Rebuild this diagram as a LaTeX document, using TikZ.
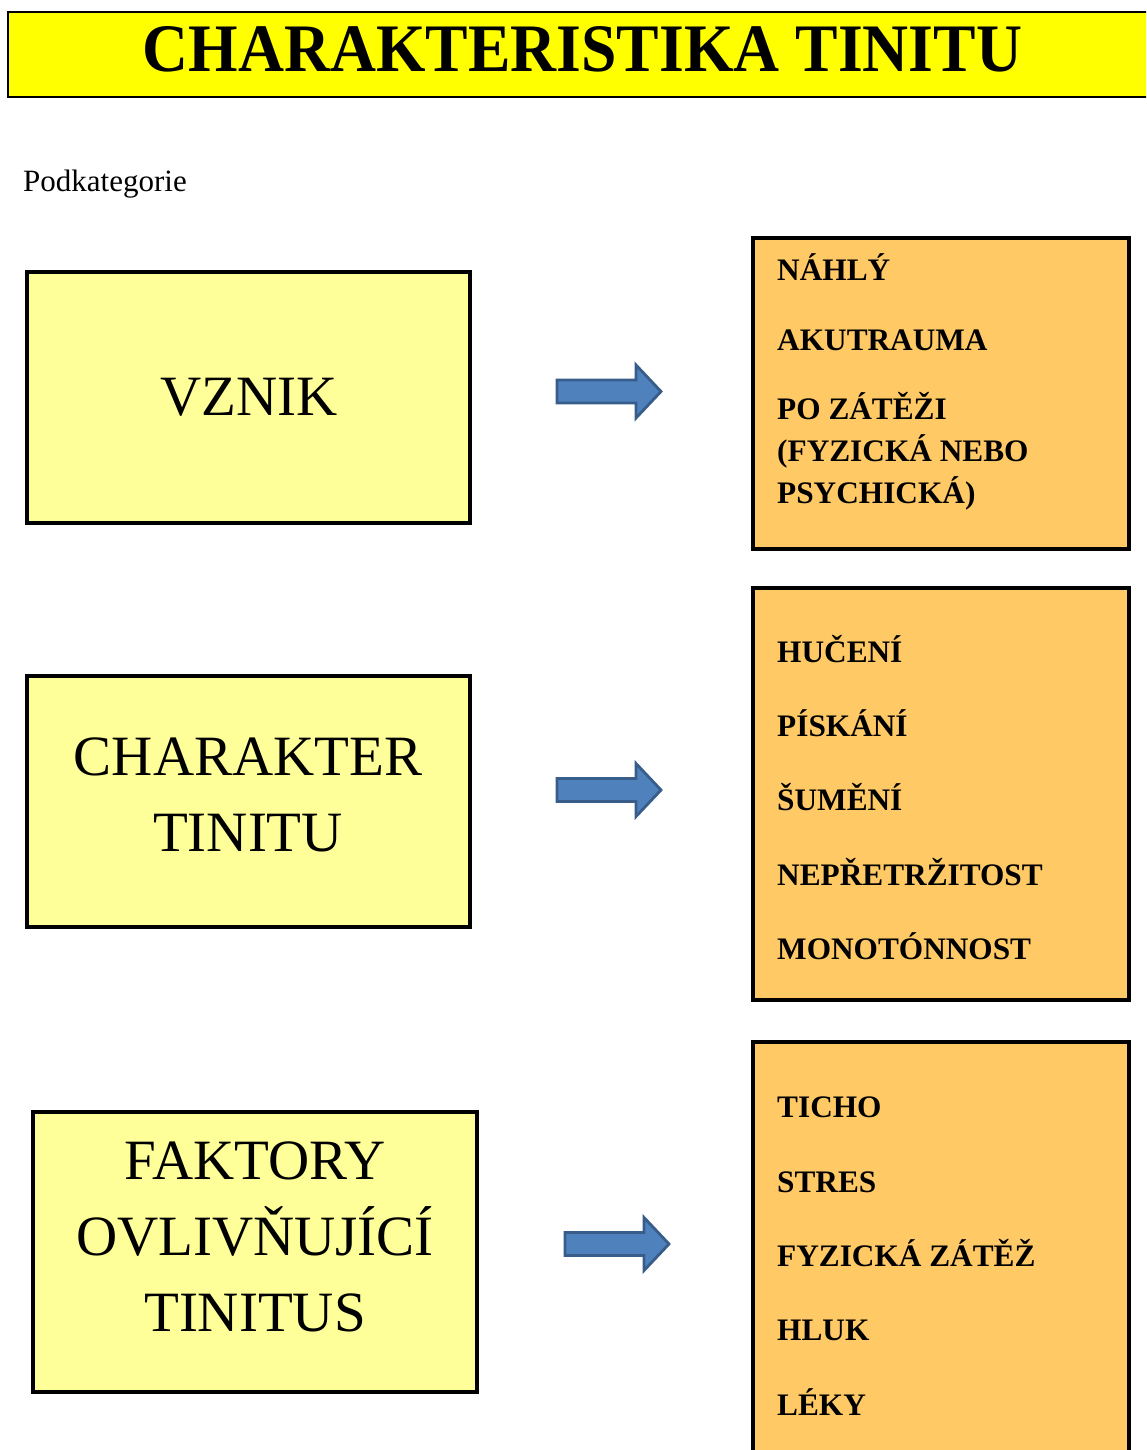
\documentclass[tikz,border=0pt]{standalone}
\usepackage{fontspec}
\setmainfont{Liberation Serif}
\usepackage{graphicx}
\definecolor{titleyellow}{HTML}{FFFF00}
\definecolor{paleyellow}{HTML}{FFFF99}
\definecolor{boxorange}{HTML}{FFC966}
\definecolor{arrowfill}{HTML}{4F81BD}
\definecolor{arrowline}{HTML}{385D8A}
\tikzset{
  catbox/.style={draw=black, line width=3.5pt, fill=paleyellow, inner sep=0pt},
  listbox/.style={draw=black, line width=4pt, fill=boxorange, inner sep=0pt},
  cattext/.style={font=\fontsize{57}{76}\selectfont, align=center, inner sep=0pt},
  item/.style={font=\fontsize{31.3}{42}\selectfont\bfseries, anchor=base west, inner sep=0pt, align=left},
  blockarrow/.style={fill=arrowfill, draw=arrowline, line width=2.8pt, line join=miter}
}
\newcommand\blockarrowat[1]{%
  \draw[blockarrow] (#1) ++(-104,-11.5) -- ++(79,0) -- ++(0,-15) -- ++(25,26.5)
    -- ++(-25,26.5) -- ++(0,-15) -- ++(-79,0) -- cycle;}
\begin{document}
\begin{tikzpicture}[x=1pt,y=-1pt]
\useasboundingbox (0,0) rectangle (1146,1450);
\clip (0,0) rectangle (1146,1450);

% title banner
\draw[fill=titleyellow, line width=2pt] (8,12) rectangle (1160,97);
\node[anchor=base, inner sep=0pt] (title) at (582.5,72)
  {\resizebox{879pt}{45pt}{\bfseries CHARAKTERISTIKA TINITU}};

\node[anchor=base west, inner sep=0pt, font=\fontsize{31}{36}\selectfont] (sub) at (23,192) {Podkategorie};

% category boxes
\node[catbox, minimum width=443pt, minimum height=251pt] (c1) at (248.5,397.5) {};
\node[catbox, minimum width=443pt, minimum height=251pt] (c2) at (248.5,801.5) {};
\node[catbox, minimum width=444pt, minimum height=280pt] (c3) at (255,1252) {};
\node[cattext] (c1t) at (249,397) {VZNIK};
\node[cattext] (c2t) at (248,795) {CHARAKTER\\TINITU};
\node[cattext] (c3t) at (255,1237) {FAKTORY\\OVLIVŇUJÍCÍ\\TINITUS};

% arrows
\coordinate (a1) at (661,391.5);
\coordinate (a2) at (661,790);
\coordinate (a3) at (669,1244);
\blockarrowat{a1}
\blockarrowat{a2}
\blockarrowat{a3}

% list boxes
\draw[listbox] (753,238) rectangle (1129,549);
\draw[listbox] (753,588) rectangle (1129,1000);
\draw[listbox] (753,1042) rectangle (1129,1470);

\node[item] (l11) at (777,280) {NÁHLÝ};
\node[item] (l12) at (777,350) {AKUTRAUMA};
\node[item] (l13) at (777,503) {PO ZÁTĚŽI\\(FYZICKÁ NEBO\\PSYCHICKÁ)};

\node[item] (l21) at (777,662) {HUČENÍ};
\node[item] (l22) at (777,736) {PÍSKÁNÍ};
\node[item] (l23) at (777,810) {ŠUMĚNÍ};
\node[item] (l24) at (777,885) {NEPŘETRŽITOST};
\node[item] (l25) at (777,959) {MONOTÓNNOST};

\node[item] (l31) at (777,1117) {TICHO};
\node[item] (l32) at (777,1192) {STRES};
\node[item] (l33) at (777,1266) {FYZICKÁ ZÁTĚŽ};
\node[item] (l34) at (777,1340) {HLUK};
\node[item] (l35) at (777,1415) {LÉKY};
\end{tikzpicture}
\end{document}
